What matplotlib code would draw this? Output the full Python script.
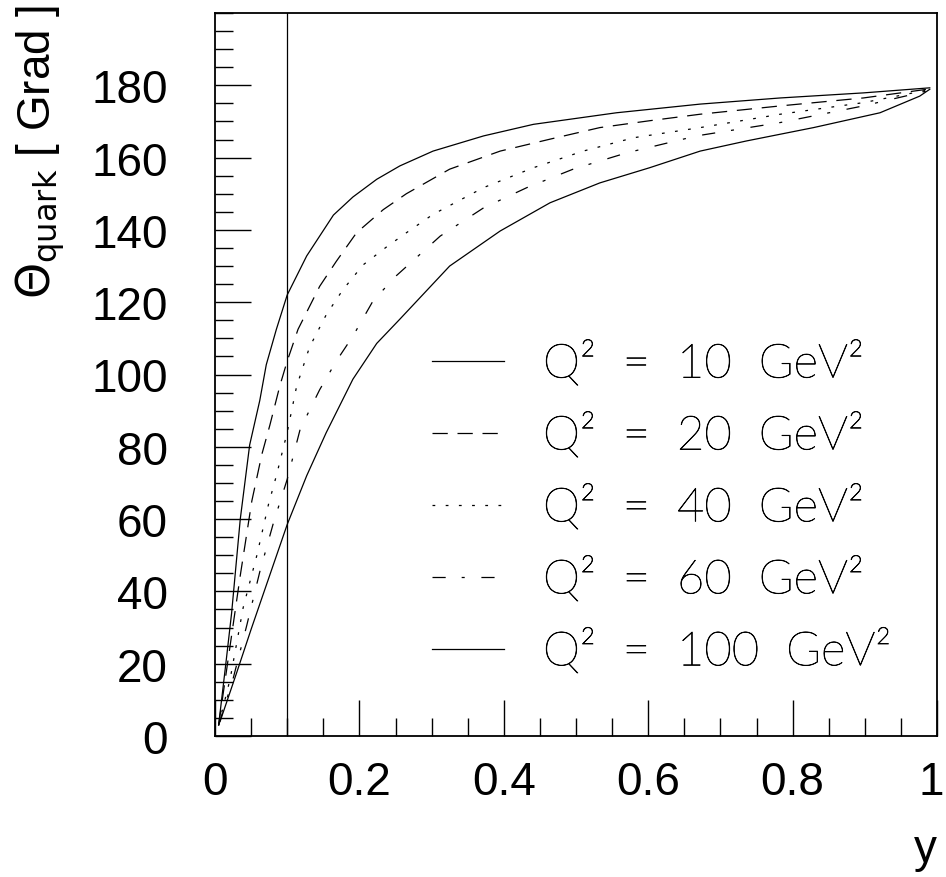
import matplotlib
matplotlib.use("Agg")
import matplotlib.pyplot as plt
from matplotlib.ticker import MultipleLocator
from matplotlib.transforms import ScaledTranslation
import matplotlib.patheffects as pe
import numpy as np

plt.rcParams['font.family'] = ['Liberation Sans', 'DejaVu Sans']
plt.rcParams['lines.scale_dashes'] = False

# ---- data ----
q2_labels = ["Q²  =  10  GeV²", "Q²  =  20  GeV²", "Q²  =  40  GeV²",
             "Q²  =  60  GeV²", "Q²  =  100  GeV²"]

y_q10 = [0.005, 0.015, 0.023, 0.035, 0.048, 0.062, 0.071, 0.085, 0.100, 0.127,
         0.164, 0.191, 0.224, 0.256, 0.302, 0.372, 0.441, 0.556, 0.672, 0.783,
         0.898, 0.990]
t_q10 = [3.0, 20.0, 34.0, 60.0, 80.5, 92.8, 102.7, 112.5, 122.0, 132.8,
         144.1, 149.1, 154.0, 157.7, 161.8, 166.0, 169.2, 172.4, 174.8, 176.5,
         177.9, 179.3]

y_q20 = [0.005, 0.025, 0.035, 0.051, 0.065, 0.076, 0.090, 0.100, 0.115, 0.145,
         0.168, 0.196, 0.233, 0.265, 0.325, 0.395, 0.464, 0.533, 0.602, 0.672,
         0.783, 0.898, 0.990]
t_q20 = [3.0, 30.6, 44.4, 65.0, 78.0, 86.0, 97.0, 103.7, 112.5, 124.4,
         131.3, 139.2, 145.6, 150.0, 156.8, 161.8, 165.1, 168.3, 170.2, 172.0,
         174.3, 176.5, 179.0]

y_q40 = [0.005, 0.021, 0.039, 0.058, 0.074, 0.085, 0.100, 0.113, 0.131, 0.154,
         0.177, 0.205, 0.237, 0.265, 0.302, 0.372, 0.441, 0.510, 0.580, 0.672,
         0.783, 0.898, 0.990]
t_q40 = [3.0, 15.8, 35.5, 50.0, 64.0, 72.0, 84.0, 96.7, 107.6, 116.5,
         123.4, 130.3, 135.2, 139.2, 144.3, 151.7, 157.2, 161.8, 165.5, 168.3,
         172.0, 175.2, 178.8]

y_q60 = [0.005, 0.025, 0.044, 0.062, 0.081, 0.100, 0.118, 0.145, 0.168, 0.191,
         0.219, 0.251, 0.312, 0.372, 0.432, 0.496, 0.570, 0.667, 0.783, 0.898,
         0.990]
t_q60 = [3.0, 15.8, 30.6, 45.4, 59.0, 71.0, 84.9, 95.8, 103.7, 110.6,
         120.4, 127.3, 138.3, 146.1, 151.7, 156.8, 161.3, 166.0, 169.7, 174.3,
         178.6]

y_q100 = [0.007, 0.030, 0.050, 0.075, 0.100, 0.127, 0.154, 0.191,
          0.224, 0.256, 0.325, 0.395, 0.464, 0.533, 0.602, 0.672, 0.736, 0.829,
          0.921, 0.976, 0.990]
t_q100 = [4.0, 17.5, 29.5, 44.0, 58.5, 72.0, 83.9, 98.7,
          108.6, 115.3, 130.0, 139.7, 147.5, 153.0, 157.2, 161.8, 164.6, 168.3,
          172.4, 177.0, 178.9]

y_cut = 0.1

xticks = [0, 0.2, 0.4, 0.6, 0.8, 1]
xticklabels = ["0", "0.2", "0.4", "0.6", "0.8", "1"]
yticks = [0, 20, 40, 60, 80, 100, 120, 140, 160, 180]

# ---- figure ----
fig = plt.figure(figsize=(9.46, 8.78), dpi=100)
ax = fig.add_axes([215/946, 1-737/878, 722/946, 723/878])

lw = 0.9
styles = ['-', (0, (11, 7)), (0, (2, 7.5)), (0, (9.5, 11.5, 2.2, 12)), '-']
series = [(y_q10, t_q10), (y_q20, t_q20), (y_q40, t_q40), (y_q60, t_q60),
          (y_q100, t_q100)]
handles = []
for (xs, ts), ls, lab in zip(series, styles, q2_labels):
    h, = ax.plot(xs, ts, color='black', lw=lw, linestyle=ls, label=lab)
    handles.append(h)

ax.axvline(y_cut, color='black', lw=lw)

ax.set_xlim(0, 1)
ax.set_ylim(0, 200)
ax.set_xticks(xticks)
ax.set_xticklabels(xticklabels)
ax.set_yticks(yticks)
ax.xaxis.set_minor_locator(MultipleLocator(0.05))
ax.yaxis.set_minor_locator(MultipleLocator(5))
ax.tick_params(which='both', direction='in', top=False, right=False,
               width=1.0, labelsize=33)
ax.tick_params(which='major', length=26)
ax.tick_params(which='minor', length=13)
ax.tick_params(axis='x', which='major', pad=17)
ax.tick_params(axis='y', which='major', pad=34)
for sp in ax.spines.values():
    sp.set_linewidth(1.3)

# keep the last x tick label ("1") inside the canvas
last = ax.get_xticklabels()[-1]
last.set_transform(last.get_transform() +
                   ScaledTranslation(-4.5/72, 0, fig.dpi_scale_trans))

ax.set_ylabel(r'$\Theta_{\rm quark}$ [ Grad ]', fontsize=33)
ax.yaxis.set_label_coords(-215/722 + 40/722, 1 - 138/723)
ax.yaxis.label.set_va('center')
ax.set_xlabel('y', fontsize=33)
ax.xaxis.set_label_coords(1.0, -(850-737)/723)
ax.xaxis.label.set_ha('right')
ax.xaxis.label.set_va('center')

leg = ax.legend(handles=handles, loc='upper left',
                bbox_to_anchor=((432-215)/722, 1 - (342-14)/723),
                frameon=False, handlelength=1.52, handletextpad=0.83,
                labelspacing=0.56, borderaxespad=0, borderpad=0,
                prop={'family': 'Lato', 'weight': 'light', 'size': 34})
for t in leg.get_texts():
    t.set_color('black')
    t.set_path_effects([pe.withStroke(linewidth=0.5, foreground='black')])

fig.savefig('out.png', dpi=100)
